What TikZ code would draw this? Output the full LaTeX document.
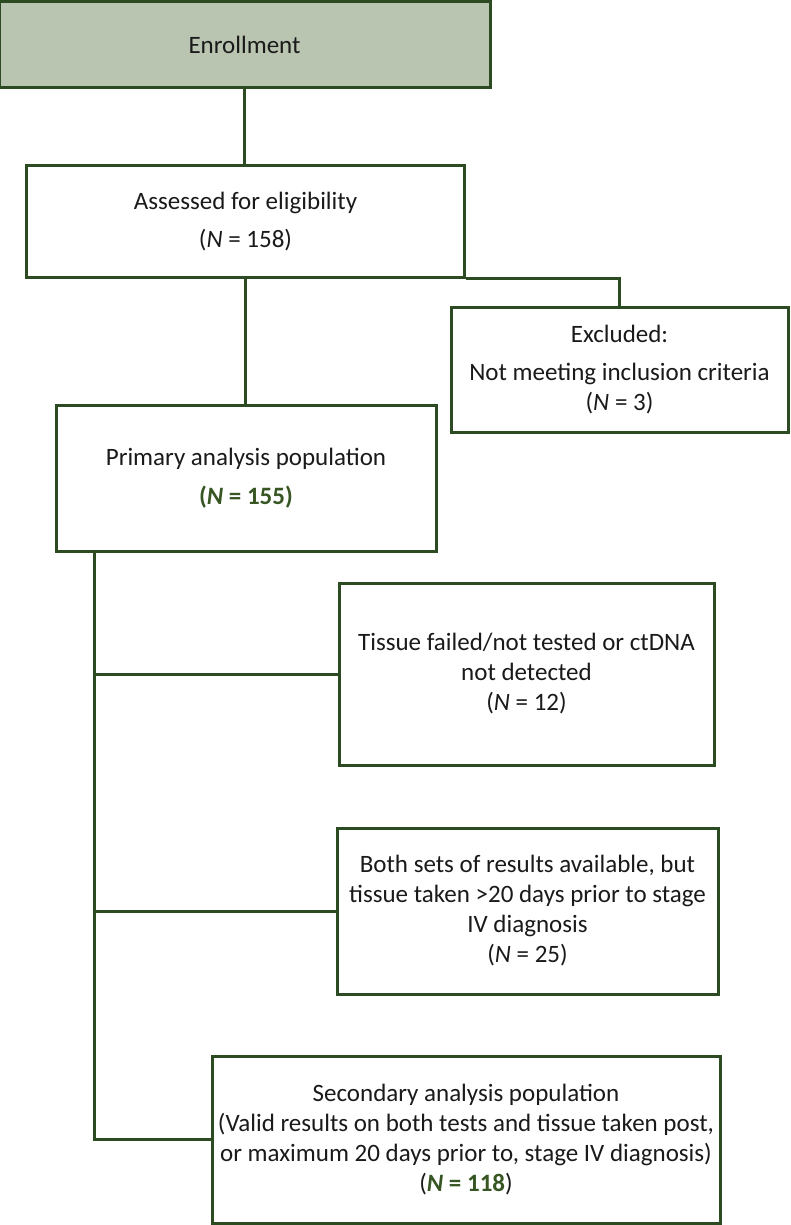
\documentclass[tikz,border=0pt]{standalone}
\usepackage{fontspec}
\setmainfont{Carlito}
\definecolor{bord}{RGB}{45,75,35}
\definecolor{enfill}{RGB}{185,197,176}
\definecolor{txt}{RGB}{26,26,26}
\definecolor{ngreen}{RGB}{55,86,35}
\begin{document}
\begin{tikzpicture}[x=1pt,y=-1pt,
  box/.style={draw=bord, line width=3pt, rectangle, inner sep=0pt, align=center,
    font=\fontsize{25}{30}\selectfont, text=txt},
  conn/.style={draw=bord, line width=3pt}]
\useasboundingbox[fill=white] (0,0) rectangle (790,1225);
\node[box, fill=enfill, minimum width=491pt, minimum height=86pt] (enroll) at (244.5,44.5) {Enrollment};
\node[box, minimum width=438pt, minimum height=111pt] (assess) at (245.5,221.5) {Assessed for eligibility\\[8pt](\textit{N} = 158)};
\node[box, minimum width=337pt, minimum height=125pt] (excl) at (619.5,369.5) {Excluded:\\[8pt]Not meeting inclusion criteria\\(\textit{N} = 3)};
\node[box, minimum width=380pt, minimum height=146pt] (primary) at (246,478) {Primary analysis population\\[9pt]\textcolor{ngreen}{\bfseries(\textit{N} = 155)}};
\node[box, minimum width=375pt, minimum height=182pt] (tissue) at (526.5,674) {Tissue failed/not tested or ctDNA\\not detected\\(\textit{N} = 12)};
\node[box, minimum width=381pt, minimum height=166pt] (both) at (527.5,911) {Both sets of results available, but\\tissue taken >20 days prior to stage\\IV diagnosis\\(\textit{N} = 25)};
\node[box, minimum width=508pt, minimum height=167pt] (second) at (466,1139.5) {Secondary analysis population\\(Valid results on both tests and tissue taken post,\\or maximum 20 days prior to, stage IV diagnosis)\\(\textcolor{ngreen}{\bfseries\textit{N} = 118})};
\coordinate (trunk) at (94,551);
\draw[conn] (enroll.south) -- (enroll.south |- assess.north);
\draw[conn] (assess.south) -- (assess.south |- primary.north);
\draw[conn] (assess.south east) -| (excl.north);
\draw[conn] (trunk) |- (second.west);
\draw[conn] (trunk |- tissue.west) -- (tissue.west);
\draw[conn] (trunk |- both.west) -- (both.west);
\end{tikzpicture}
\end{document}
